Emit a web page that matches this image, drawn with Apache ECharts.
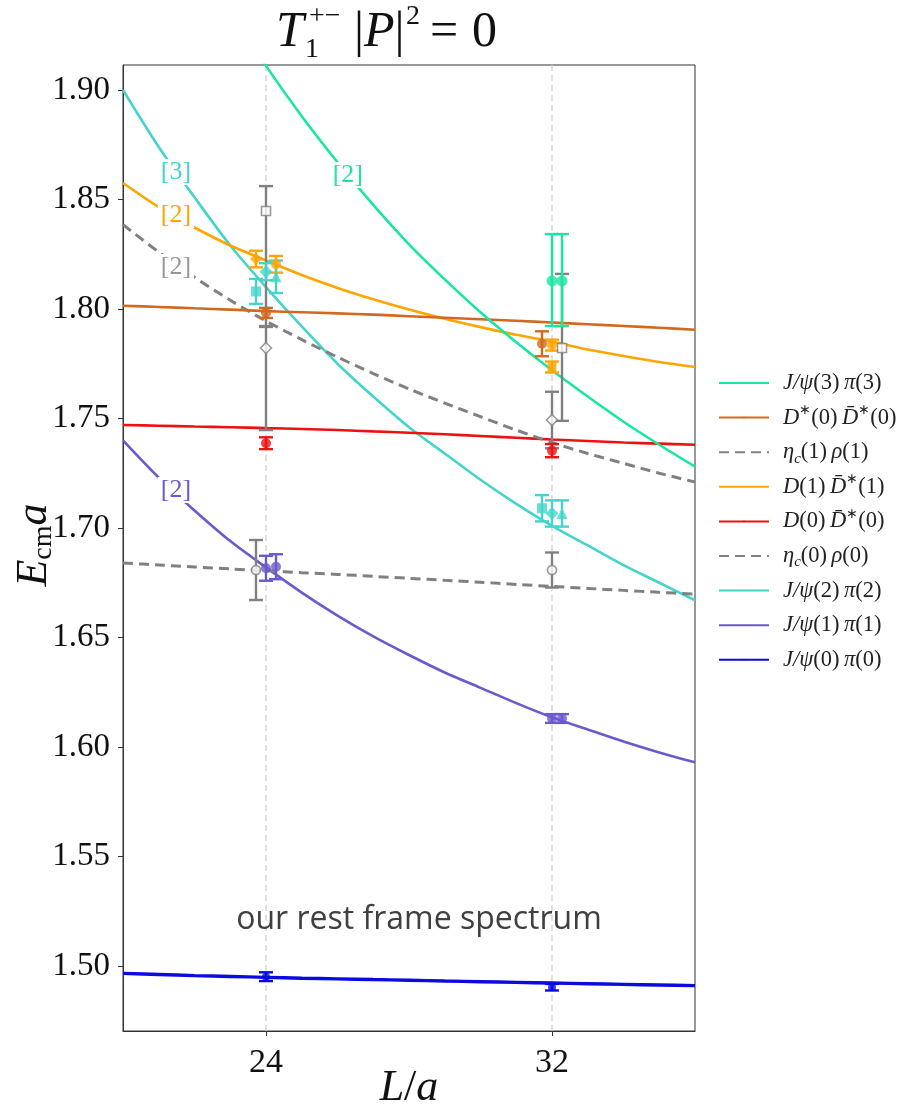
<!DOCTYPE html>
<html>
<head>
<meta charset="utf-8">
<script src="https://cdn.jsdelivr.net/npm/echarts@6/dist/echarts.min.js"></script>
<style>
  html, body { margin: 0; padding: 0; background: #fff; }
  #chart { width: 899px; height: 1111px; }
</style>
</head>
<body>
<div id="chart"></div>
<script>
// Box size L/a at which the non-interacting curves are sampled
const L_GRID = [20, 21, 22, 23, 24, 25, 26, 27, 28, 29, 30, 31, 32, 33, 34, 35, 36];

// Non-interacting two-meson energies E_cm a along L_GRID
const E_JPSI3_PI3 = [null, null, null, 1.936, 1.911, 1.888, 1.867, 1.8475, 1.8295, 1.8135, 1.7985, 1.7848, 1.772, 1.760, 1.7485, 1.738, 1.728];
const E_DST0_DBST0 = [1.8015, 1.8009, 1.8003, 1.7997, 1.799, 1.7985, 1.798, 1.7974, 1.7967, 1.796, 1.7953, 1.7946, 1.7938, 1.793, 1.7922, 1.7914, 1.7905];
const E_ETAC1_RHO1 = [1.8385, 1.826, 1.8145, 1.804, 1.7945, 1.786, 1.778, 1.7705, 1.7635, 1.757, 1.7508, 1.7447, 1.739, 1.734, 1.7295, 1.725, 1.721];
const E_D1_DBST1 = [1.8575, 1.8465, 1.8372, 1.829, 1.8222, 1.8155, 1.8096, 1.8044, 1.7997, 1.7955, 1.7917, 1.7882, 1.7851, 1.7815, 1.7785, 1.7758, 1.7735];
const E_D0_DBST0 = [1.747, 1.7467, 1.7463, 1.746, 1.7456, 1.7452, 1.7447, 1.7441, 1.7435, 1.7428, 1.742, 1.7412, 1.7404, 1.7397, 1.739, 1.7385, 1.738];
const E_ETAC0_RHO0 = [1.684, 1.6831, 1.6822, 1.6813, 1.6805, 1.6796, 1.6788, 1.6779, 1.677, 1.6761, 1.6752, 1.6742, 1.6733, 1.6724, 1.6715, 1.6706, 1.6698];
const E_JPSI2_PI2 = [1.900, 1.874, 1.851, 1.829, 1.810, 1.792, 1.775, 1.760, 1.746, 1.734, 1.722, 1.711, 1.701, 1.692, 1.683, 1.675, 1.667];
const E_JPSI1_PI1 = [1.740, 1.723, 1.708, 1.694, 1.682, 1.6705, 1.660, 1.6505, 1.642, 1.634, 1.627, 1.620, 1.6135, 1.608, 1.6025, 1.5975, 1.593];
const E_JPSI0_PI0 = [1.4966, 1.4961, 1.4956, 1.4952, 1.4948, 1.4944, 1.4941, 1.4938, 1.4935, 1.4931, 1.4928, 1.4925, 1.4922, 1.4919, 1.4916, 1.4913, 1.491];

// Spectrum: each level is [L, fit slot, E, E_low, E_high]
const LV_GREEN_CIRCLE = [[32, 0, 1.8128, 1.7922, 1.8342], [32, 1, 1.8128, 1.7922, 1.8342]];
const LV_GREY_SQUARE = [[24, 0, 1.8447, 1.7922, 1.8561], [32, 1, 1.7822, 1.7489, 1.8160]];
const LV_GREY_DIAMOND = [[24, 0, 1.7822, 1.7447, 1.7918], [32, 0, 1.7493, 1.7364, 1.7622]];
const LV_GREY_CIRCLE = [[24, -1, 1.6808, 1.6671, 1.6945], [32, 0, 1.6808, 1.6728, 1.6888]];
const LV_BROWN = [[24, 0, 1.7982, 1.7959, 1.8005], [32, -1, 1.7841, 1.7784, 1.7898]];
const LV_ORANGE_DIAMOND = [[24, -1, 1.8228, 1.8190, 1.8266]];
const LV_ORANGE_CIRCLE = [[24, 1, 1.8204, 1.8166, 1.8242], [32, 0, 1.7835, 1.7810, 1.7860]];
const LV_ORANGE_SQUARE = [[32, 0, 1.7735, 1.7710, 1.7760]];
const LV_RED = [[24, 0, 1.7387, 1.7360, 1.7414], [32, 0, 1.7353, 1.7323, 1.7383]];
const LV_CYAN_SQUARE = [[24, -1, 1.808, 1.8023, 1.8137], [32, -1, 1.709, 1.703, 1.715]];
const LV_CYAN_DIAMOND = [[24, 0, 1.817, 1.8131, 1.8209], [32, 0, 1.7066, 1.7006, 1.7126]];
const LV_CYAN_TRIANGLE = [[24, 1, 1.8147, 1.8073, 1.8221], [32, 1, 1.7066, 1.7006, 1.7126]];
const LV_PURPLE = [[24, 0, 1.6816, 1.6759, 1.6873], [24, 1, 1.6823, 1.6766, 1.688], [32, 0, 1.613, 1.611, 1.615], [32, 1, 1.613, 1.611, 1.615]];
const LV_BLUE = [[24, 0, 1.4951, 1.4931, 1.4971], [32, 0, 1.4903, 1.4888, 1.4918]];

// Multiplicity tags next to the curves: [L, E, text]
const TAG_JPSI3 = [26.29, 1.8612, '[2]'];
const TAG_JPSI2 = [21.48, 1.8625, '[3]'];
const TAG_D1 = [21.48, 1.8429, '[2]'];
const TAG_ETAC1 = [21.48, 1.8192, '[2]'];
const TAG_JPSI1 = [21.48, 1.7173, '[2]'];

const X_TICKS = [24, 32];
const Y_TICKS = [1.50, 1.55, 1.60, 1.65, 1.70, 1.75, 1.80, 1.85, 1.90];
const VOLUMES = [24, 32];

const C = {
  green: '#19e6a0', brown: '#d2691e', grey: '#808080', orange: '#ffa500',
  red: '#ee1111', cyan: '#45d4cc', purple: '#6a5acd', blue: '#0b0be0'
};
const SLOT_SHIFT = 0.28;
const SERIF = 'Liberation Serif';
const INK = '#111';

const curve = (name, values, color, dashed, width) => ({
  name, type: 'line', data: L_GRID.map((L, i) => [L, values[i]]),
  symbol: 'none', smooth: 0.3, clip: true, z: 2,
  lineStyle: { color, width: width || 2.6, type: dashed ? [10, 6] : 'solid', cap: 'butt' },
  itemStyle: { color }
});

const errorBars = (levels, color) => ({
  type: 'custom', z: 3, silent: true,
  data: levels.map(d => [d[0] + d[1] * SLOT_SHIFT, d[3], d[4]]),
  renderItem: (params, api) => {
    const x = api.value(0);
    const lo = api.coord([x, api.value(1)]);
    const hi = api.coord([x, api.value(2)]);
    const w = 7;
    const style = { stroke: color, lineWidth: 2.4, fill: null };
    return { type: 'group', children: [
      { type: 'line', shape: { x1: lo[0], y1: lo[1], x2: hi[0], y2: hi[1] }, style },
      { type: 'line', shape: { x1: lo[0] - w, y1: lo[1], x2: lo[0] + w, y2: lo[1] }, style },
      { type: 'line', shape: { x1: hi[0] - w, y1: hi[1], x2: hi[0] + w, y2: hi[1] }, style }
    ] };
  }
});

const markers = (levels, color, symbol, hollow, size) => ({
  type: 'scatter', z: 4, silent: true, symbol, symbolSize: size || 10,
  data: levels.map(d => [d[0] + d[1] * SLOT_SHIFT, d[2]]),
  itemStyle: hollow ? { color: '#fff', borderColor: color, borderWidth: 1.6 } : { color }
});

const tags = (list) => ({
  type: 'custom', z: 6, silent: true,
  data: list.map(t => [t[0], t[1]]),
  renderItem: (params, api) => {
    const p = api.coord([api.value(0), api.value(1)]);
    const t = list[params.dataIndex];
    return { type: 'text', x: p[0], y: p[1], style: {
      text: t[2], fill: t[3], font: '26px "' + SERIF + '"', align: 'center', verticalAlign: 'middle',
      backgroundColor: '#fff', padding: [0, 3]
    } };
  }
});

const volumeLines = {
  type: 'custom', z: 1, silent: true,
  data: VOLUMES.map(L => [L]),
  renderItem: (params, api) => {
    const L = api.value(0);
    const a = api.coord([L, 1.4703]);
    const b = api.coord([L, 1.9114]);
    return { type: 'line', shape: { x1: a[0], y1: a[1], x2: b[0], y2: b[1] },
      style: { stroke: '#cccccc', lineWidth: 1.2, lineDash: [6, 4] } };
  }
};

const NAMES = {
  j3: 'J/ψ(3) π(3)', dd0s: 'D*(0) D̄*(0)', e1: 'ηc(1) ρ(1)', d1: 'D(1) D̄*(1)', d0: 'D(0) D̄*(0)',
  e0: 'ηc(0) ρ(0)', j2: 'J/ψ(2) π(2)', j1: 'J/ψ(1) π(1)', j0: 'J/ψ(0) π(0)'
};
const LEGEND_RICH = {
  [NAMES.j3]: '{i|J/ψ}{r|(3)\u2009}{i|π}{r|(3)}',
  [NAMES.dd0s]: '{i|D}{s|∗}{r|(0)\u2009}{i|D\u0304}{s|∗}{r|(0)}',
  [NAMES.e1]: '{i|η}{b|c}{r|(1)\u2009}{i|ρ}{r|(1)}',
  [NAMES.d1]: '{i|D}{r|(1)\u2009}{i|D\u0304}{s|∗}{r|(1)}',
  [NAMES.d0]: '{i|D}{r|(0)\u2009}{i|D\u0304}{s|∗}{r|(0)}',
  [NAMES.e0]: '{i|η}{b|c}{r|(0)\u2009}{i|ρ}{r|(0)}',
  [NAMES.j2]: '{i|J/ψ}{r|(2)\u2009}{i|π}{r|(2)}',
  [NAMES.j1]: '{i|J/ψ}{r|(1)\u2009}{i|π}{r|(1)}',
  [NAMES.j0]: '{i|J/ψ}{r|(0)\u2009}{i|π}{r|(0)}'
};

const LF = 22.5;
const LH = 28;
const legendRich = {
  i: { fontFamily: SERIF, fontStyle: 'italic', fontSize: LF, color: '#222', lineHeight: LH },
  r: { fontFamily: SERIF, fontSize: LF, color: '#222', lineHeight: LH },
  s: { fontFamily: SERIF, fontSize: 14, color: '#222', verticalAlign: 'top', lineHeight: LH },
  b: { fontFamily: SERIF, fontStyle: 'italic', fontSize: 15, color: '#222', verticalAlign: 'bottom', lineHeight: LH }
};

const chart = echarts.init(document.getElementById('chart'), null, { renderer: 'canvas' });
chart.setOption({
  backgroundColor: '#fff',
  animation: false,
  grid: { left: 123, top: 65, width: 572, height: 966, show: true, borderColor: '#333', borderWidth: 1 },
  xAxis: {
    type: 'value', min: 20, max: 36,
    axisLine: { show: true, lineStyle: { color: '#333', width: 1 } },
    axisTick: { show: true, customValues: X_TICKS, length: 5, lineStyle: { color: '#333' } },
    axisLabel: { customValues: X_TICKS, fontFamily: SERIF, fontSize: 34, color: INK, margin: 15 },
    splitLine: { show: false }
  },
  yAxis: {
    type: 'value', min: 1.4703, max: 1.9114,
    axisLine: { show: true, lineStyle: { color: '#333', width: 1 } },
    axisTick: { show: true, customValues: Y_TICKS, length: 5, lineStyle: { color: '#333' } },
    axisLabel: { customValues: Y_TICKS, fontFamily: SERIF, fontSize: 33, color: INK, margin: 13,
      formatter: v => v.toFixed(2) },
    splitLine: { show: false }
  },
  legend: {
    data: [NAMES.j3, NAMES.dd0s, NAMES.e1, NAMES.d1, NAMES.d0, NAMES.e0, NAMES.j2, NAMES.j1, NAMES.j0],
    orient: 'vertical', left: 713, top: 364, itemWidth: 50, itemHeight: 2, itemGap: 6.6,
    selectedMode: false,
    formatter: name => LEGEND_RICH[name],
    textStyle: { color: '#222', fontFamily: SERIF, fontSize: LF, lineHeight: LH, padding: [0, 0, 0, 9], rich: legendRich }
  },
  graphic: [
    { type: 'text', x: 276, y: 33, style: { text: 'T', font: 'italic 50px "' + SERIF + '"', fill: INK, verticalAlign: 'middle' } },
    { type: 'text', x: 309, y: 17, style: { text: '+−', font: '28px "' + SERIF + '"', fill: INK, verticalAlign: 'middle' } },
    { type: 'text', x: 305, y: 50, style: { text: '1', font: '28px "' + SERIF + '"', fill: INK, verticalAlign: 'middle' } },
    { type: 'text', x: 354, y: 33, style: { text: '{r||}{i|P}{r||}', verticalAlign: 'middle',
        rich: { r: { font: '50px "' + SERIF + '"', fill: INK }, i: { font: 'italic 50px "' + SERIF + '"', fill: INK } } } },
    { type: 'text', x: 406, y: 17, style: { text: '2', font: '28px "' + SERIF + '"', fill: INK, verticalAlign: 'middle' } },
    { type: 'text', x: 430, y: 33, style: { text: '=', font: '50px "' + SERIF + '"', fill: INK, verticalAlign: 'middle' } },
    { type: 'text', x: 472, y: 33, style: { text: '0', font: '50px "' + SERIF + '"', fill: INK, verticalAlign: 'middle' } },
    { type: 'text', x: 34, y: 545, rotation: Math.PI / 2, style: { text: '{i|E}{b|cm}{i|a}', align: 'center', verticalAlign: 'middle',
        rich: { i: { font: 'italic 44px "' + SERIF + '"', fill: INK, lineHeight: 48 },
                b: { font: '28px "' + SERIF + '"', fill: INK, verticalAlign: 'bottom', lineHeight: 48 } } } },
    { type: 'text', x: 409, y: 1088, style: { text: '{i|L}{r|/}{i|a}', align: 'center', verticalAlign: 'middle',
        rich: { i: { font: 'italic 44px "' + SERIF + '"', fill: INK }, r: { font: '44px "' + SERIF + '"', fill: INK } } } },
    { type: 'text', x: 419, y: 920, z: 10, style: { text: 'our rest frame spectrum', font: '32px "Open Sans"', fill: '#404040', align: 'center', verticalAlign: 'middle' } }
  ],
  series: [
    volumeLines,
    curve(NAMES.j0, E_JPSI0_PI0, C.blue, false, 3.4),
    curve(NAMES.j1, E_JPSI1_PI1, C.purple),
    curve(NAMES.j2, E_JPSI2_PI2, C.cyan),
    curve(NAMES.e0, E_ETAC0_RHO0, C.grey, true, 3),
    curve(NAMES.d0, E_D0_DBST0, C.red),
    curve(NAMES.d1, E_D1_DBST1, C.orange),
    curve(NAMES.e1, E_ETAC1_RHO1, C.grey, true, 3),
    curve(NAMES.dd0s, E_DST0_DBST0, C.brown),
    curve(NAMES.j3, E_JPSI3_PI3, C.green),
    errorBars(LV_GREY_SQUARE, C.grey), markers(LV_GREY_SQUARE, C.grey, 'rect', true, 9),
    errorBars(LV_GREY_DIAMOND, C.grey), markers(LV_GREY_DIAMOND, C.grey, 'diamond', true, 11),
    errorBars(LV_GREY_CIRCLE, C.grey), markers(LV_GREY_CIRCLE, C.grey, 'circle', true, 9),
    errorBars(LV_GREEN_CIRCLE, C.green), markers(LV_GREEN_CIRCLE, C.green, 'circle', false, 11),
    errorBars(LV_BROWN, C.brown), markers(LV_BROWN, C.brown, 'circle', false, 10),
    errorBars(LV_ORANGE_DIAMOND, C.orange), markers(LV_ORANGE_DIAMOND, C.orange, 'diamond', false, 12),
    errorBars(LV_ORANGE_CIRCLE, C.orange), markers(LV_ORANGE_CIRCLE, C.orange, 'circle', false, 10),
    errorBars(LV_ORANGE_SQUARE, C.orange), markers(LV_ORANGE_SQUARE, C.orange, 'rect', false, 9),
    errorBars(LV_RED, C.red), markers(LV_RED, C.red, 'circle', false, 10),
    errorBars(LV_CYAN_SQUARE, C.cyan), markers(LV_CYAN_SQUARE, C.cyan, 'rect', false, 10),
    errorBars(LV_CYAN_DIAMOND, C.cyan), markers(LV_CYAN_DIAMOND, C.cyan, 'diamond', false, 13),
    errorBars(LV_CYAN_TRIANGLE, C.cyan), markers(LV_CYAN_TRIANGLE, C.cyan, 'triangle', false, 11),
    errorBars(LV_PURPLE, C.purple), markers(LV_PURPLE, C.purple, 'circle', false, 10),
    errorBars(LV_BLUE, C.blue), markers(LV_BLUE, C.blue, 'circle', false, 8),
    tags([
      [TAG_JPSI3[0], TAG_JPSI3[1], TAG_JPSI3[2], C.green],
      [TAG_JPSI2[0], TAG_JPSI2[1], TAG_JPSI2[2], C.cyan],
      [TAG_D1[0], TAG_D1[1], TAG_D1[2], C.orange],
      [TAG_ETAC1[0], TAG_ETAC1[1], TAG_ETAC1[2], '#999999'],
      [TAG_JPSI1[0], TAG_JPSI1[1], TAG_JPSI1[2], C.purple]
    ])
  ]
});
</script>
</body>
</html>
